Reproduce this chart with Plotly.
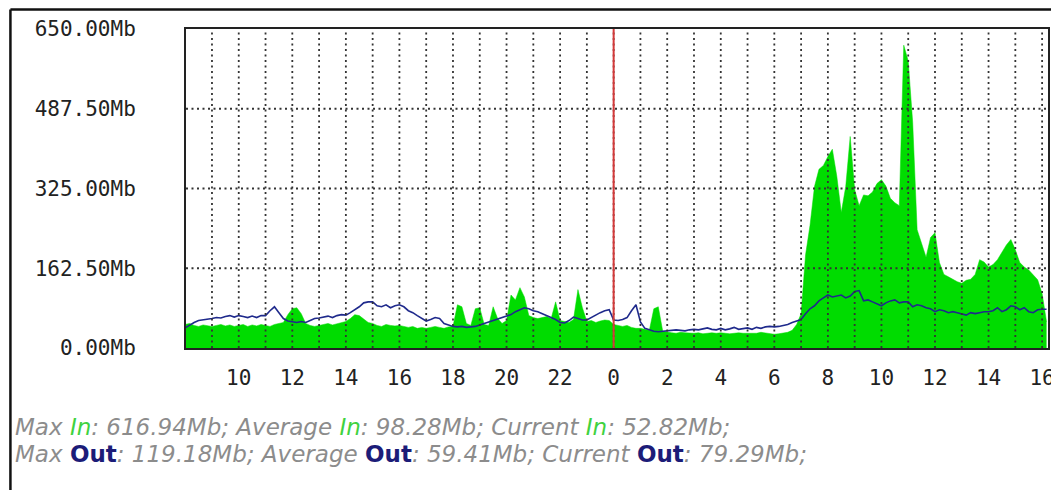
import plotly.graph_objects as go

# --- data (10-minute samples, Mb) ---
# time axis: hours relative to midnight, from 08:00 the day before to ~16:10
IN_MB = [
    48, 50, 46, 44, 47, 45,   # 08
    44, 46, 48, 45, 47, 44,   # 09
    46, 48, 44, 47, 45, 48,   # 10
    46, 44, 48, 50, 52, 68,   # 11
    80, 82, 70, 50, 46, 44,   # 12
    46, 48, 50, 47, 49, 52,   # 13
    54, 60, 68, 66, 58, 52,   # 14
    50, 46, 44, 48, 46, 45,   # 15
    46, 44, 42, 44, 40, 42,   # 16
    40, 42, 44, 42, 40, 43,   # 17
    44, 88, 84, 50, 46, 80,   # 18
    82, 48, 46, 84, 60, 50,   # 19
    56, 108, 98, 123, 104, 66,  # 20
    62, 60, 62, 64, 60, 94,   # 21
    56, 54, 52, 58, 119, 82,  # 22
    54, 56, 52, 55, 57, 56,   # 23
    48, 46, 44, 46, 42, 40,   # 0
    40, 38, 36, 80, 84, 34,   # 1
    32, 31, 30, 32, 31, 30,   # 2
    30, 31, 29, 30, 31, 30,   # 3
    31, 30, 29, 30, 31, 30,   # 4
    30, 31, 30, 32, 31, 30,   # 5
    28, 29, 30, 32, 36, 48,   # 6
    70, 190, 250, 329, 364, 372,   # 7
    390, 405, 350, 276, 329, 431,  # 8
    323, 290, 312, 310, 318, 335,  # 9
    343, 330, 305, 296, 290, 617,  # 10
    585, 460, 241, 215, 185, 225,  # 11
    235, 174, 150, 145, 140, 135,  # 12
    132, 138, 140, 150, 180, 175,  # 13
    165, 170, 180, 195, 210, 221,  # 14
    200, 174, 165, 159, 150, 139,  # 15
    111, 53,                       # 16
]
OUT_MB = [
    41, 47, 52, 56, 57, 59,
    60, 62, 61, 64, 66, 63,
    66, 64, 62, 65, 62, 66,
    66, 76, 84, 72, 60, 55,
    53, 52, 54, 52, 56, 60,
    61, 63, 65, 62, 66, 68,
    67, 72, 78, 84, 92, 94,
    94, 86, 84, 88, 82, 86,
    88, 84, 76, 72, 66, 60,
    55, 58, 62, 60, 50, 47,
    44, 43, 44, 42, 43, 44,
    47, 50, 53, 56, 58, 61,
    64, 68, 74, 78, 82, 80,
    76, 74, 70, 66, 63, 58,
    52, 51, 56, 63, 60, 57,
    57, 62, 68, 72, 76, 78,
    57, 56, 58, 62, 76, 88,
    53, 40, 37, 34, 33, 34,
    35, 36, 37, 36, 35, 37,
    38, 37, 39, 41, 38, 37,
    40, 37, 39, 42, 38, 40,
    41, 38, 42, 40, 43, 44,
    43, 44, 46, 48, 52, 55,
    58, 70, 80, 86, 96, 102,
    108, 104, 106, 108, 102, 106,
    115, 117, 96, 98, 94, 90,
    86, 92, 96, 98, 92, 94,
    94, 84, 88, 86, 82, 80,
    74, 78, 76, 72, 74, 72,
    70, 67, 72, 70, 72, 74,
    74, 76, 82, 74, 78, 86,
    84, 78, 82, 74, 72, 78,
    79, 79,
]
TIME_H = [-16 + i / 6 for i in range(len(IN_MB))]

HOUR_TICKS = [-14, -12, -10, -8, -6, -4, -2, 0, 2, 4, 6, 8, 10, 12, 14, 16]
HOUR_LABELS = ["10", "12", "14", "16", "18", "20", "22", "0", "2", "4", "6", "8", "10", "12", "14", "16"]
MB_TICKS = [0, 162.5, 325, 487.5, 650]
MB_LABELS = ["0.00Mb", "162.50Mb", "325.00Mb", "487.50Mb", "650.00Mb"]

IN_STATS = ["616.94Mb", "98.28Mb", "52.82Mb"]
OUT_STATS = ["119.18Mb", "59.41Mb", "79.29Mb"]

GREEN = "#00dc00"
BLUE = "#1f2a8c"

# the page adds an 8px body margin, so the figure itself is 8px smaller
FIG_W, FIG_H = 1051, 482
# plot area in figure pixels
L, T, W, H = 178, 21, 869, 319


def px(x):
    return (x - L) / W


def py(y):
    return (T + H - y) / H


fig = go.Figure()
fig.add_trace(go.Scatter(x=TIME_H, y=IN_MB, mode="lines", fill="tozeroy",
                         fillcolor=GREEN, line=dict(color=GREEN, width=0.5),
                         hoverinfo="skip"))
fig.add_trace(go.Scatter(x=TIME_H, y=OUT_MB, mode="lines",
                         line=dict(color=BLUE, width=1.6), hoverinfo="skip"))

shapes = []
# dotted grid drawn over the data, like MRTG does
for h in range(-15, 17):
    shapes.append(dict(type="line", xref="x", yref="paper", x0=h, x1=h, y0=0, y1=1,
                       line=dict(color="#333", width=1.8, dash="2px,3.5px"), layer="above"))
for v in MB_TICKS[1:-1]:
    shapes.append(dict(type="line", xref="paper", yref="y", x0=0, x1=1, y0=v, y1=v,
                       line=dict(color="#333", width=1.8, dash="2px,3.5px"), layer="above"))
# midnight marker
shapes.append(dict(type="line", xref="x", yref="paper", x0=0, x1=0, y0=0, y1=1,
                   line=dict(color="#d43a3a", width=2), layer="above"))
# outer frame (cut off at the right and bottom)
shapes.append(dict(type="line", xref="paper", yref="paper", x0=px(1), x1=px(FIG_W + 10),
                   y0=py(1.5), y1=py(1.5), line=dict(color="#111", width=2.5)))
shapes.append(dict(type="line", xref="paper", yref="paper", x0=px(1), x1=px(1),
                   y0=py(1.5), y1=py(FIG_H + 10), line=dict(color="#111", width=2.5)))

gray = "#8c8c8c"
in_lbl = "<span style='color:#3fd23f'>In</span>"
out_lbl = "</i><b><span style='color:#1c1c78'>Out</span></b><i>"
line1 = (f"<i>Max {in_lbl}: {IN_STATS[0]}; Average {in_lbl}: {IN_STATS[1]}; "
         f"Current {in_lbl}: {IN_STATS[2]};</i>")
line2 = (f"<i>Max {out_lbl}: {OUT_STATS[0]}; Average {out_lbl}: {OUT_STATS[1]}; "
         f"Current {out_lbl}: {OUT_STATS[2]};</i>")

fig.update_layout(
    width=FIG_W, height=FIG_H,
    margin=dict(l=L, r=FIG_W - L - W, t=T, b=FIG_H - T - H),
    paper_bgcolor="white", plot_bgcolor="white",
    showlegend=False,
    font=dict(family="DejaVu Sans Mono", color="#222"),
    xaxis=dict(range=[-15.97, 16.22], tickvals=HOUR_TICKS, ticktext=HOUR_LABELS,
               showgrid=False, zeroline=False, showline=True, linecolor="#222",
               linewidth=2, mirror=True, ticks="", ticklabelstandoff=10,
               ticklabeloverflow="allow",
               tickfont=dict(family="DejaVu Sans Mono", size=21, color="#222")),
    yaxis=dict(range=[0, 650], tickvals=MB_TICKS, ticktext=MB_LABELS,
               showgrid=False, zeroline=False, showline=True, linecolor="#222",
               linewidth=2, mirror=True, ticks="", ticklabelstandoff=44,
               tickfont=dict(family="DejaVu Sans Mono", size=21, color="#222")),
    shapes=shapes,
    annotations=[
        dict(text=line1, xref="paper", yref="paper", x=px(4), y=py(419),
             xanchor="left", yanchor="middle", showarrow=False,
             font=dict(family="DejaVu Sans", size=23, color=gray)),
        dict(text=line2, xref="paper", yref="paper", x=px(4), y=py(446),
             xanchor="left", yanchor="middle", showarrow=False,
             font=dict(family="DejaVu Sans", size=23, color=gray)),
    ],
)

fig.write_html("out.html")
